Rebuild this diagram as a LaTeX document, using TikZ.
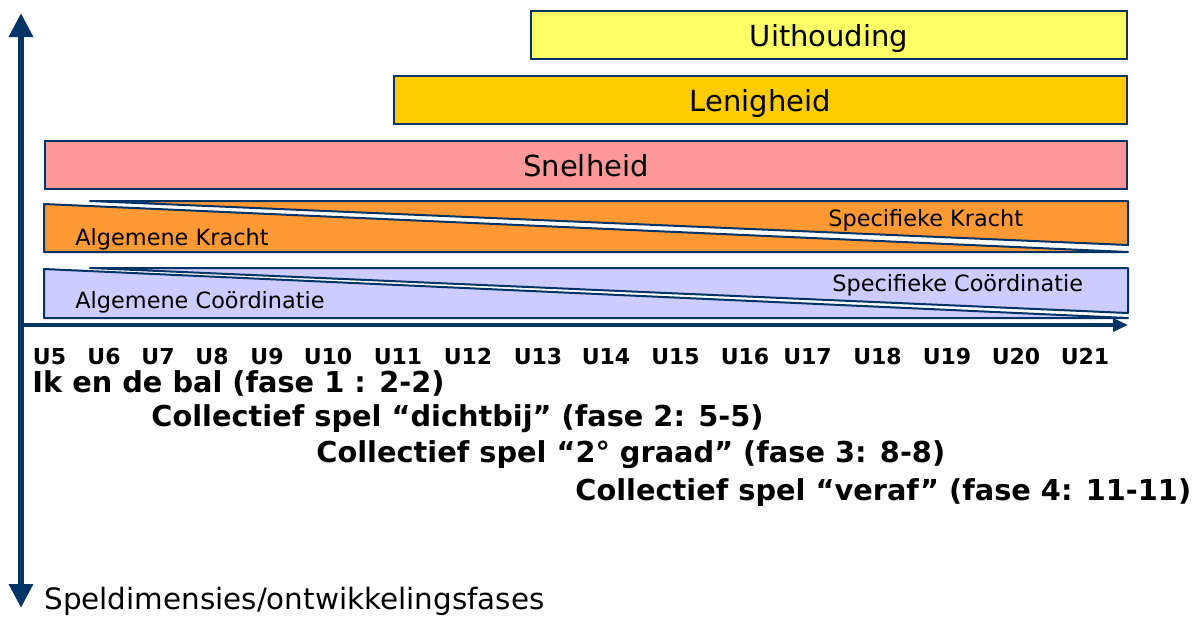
\documentclass[tikz,border=0pt]{standalone}
\usepackage{fontspec}
\setmainfont{DejaVu Sans}
\usepackage{tikz}
\usetikzlibrary{arrows.meta,positioning}
\definecolor{axisblue}{HTML}{003366}
\definecolor{uithcol}{HTML}{FFFF66}
\definecolor{lenicol}{HTML}{FFCC00}
\definecolor{snelcol}{HTML}{FF9999}
\definecolor{krachtcol}{HTML}{FF9933}
\definecolor{coordcol}{HTML}{CCCCFF}

\begin{document}
\begin{tikzpicture} [
					x=0.5pt, y=-0.5pt,
					bar/.style={draw=axisblue,line width=1pt,inner sep=0,text depth=0pt,minimum height=24pt,font=\fontsize{14.5}{17}\selectfont},
					tri/.style={draw=axisblue,line width=1pt,line join=round},
					small/.style={inner sep=0,anchor=base west,font=\fontsize{11.2}{13}\selectfont},
					ulabel/.style={inner sep=0,anchor=base,font=\bfseries\fontsize{11}{13}\selectfont},
					phase/.style={inner sep=0,anchor=base west,font=\bfseries\fontsize{14.4}{17}\selectfont},
					vaxis/.style={draw=axisblue,line width=3.25pt,{Triangle[width=11.5pt,length=12pt]}-{Triangle[width=11.5pt,length=12pt]}},
					haxis/.style={draw=axisblue,line width=1.75pt,-{Triangle[width=6.5pt,length=7.5pt]}},
				]
				\useasboundingbox (0,0) rectangle (1195,618);
				
				% bars
				\node[bar,fill=uithcol,minimum width=298pt] (uith) at (829,35) {Uithouding};
				\node[bar,fill=lenicol,minimum width=366.5pt] (leni) at (760.5,100) {Lenigheid};
				\node[bar,fill=snelcol,minimum width=541pt] (snel) at (586,165) {Snelheid};
				
				% kracht
				\draw[tri,fill=krachtcol] (44,204) -- (44,252) -- (1128,252) -- cycle;
				\draw[tri,fill=krachtcol] (90,201) -- (1128,201) -- (1128,245) -- cycle;
				\node[small] (alkr) at (75,245) {Algemene Kracht};
				\node[small] (spkr) at (828,226) {Specifieke Kracht};
				
				% coordinatie
				\draw[tri,fill=coordcol] (44,269) -- (44,318) -- (1128,318) -- cycle;
				\draw[tri,fill=coordcol] (90,268) -- (1128,268) -- (1128,313) -- cycle;
				\node[small] (alco) at (75,308) {Algemene Coördinatie};
				\node[small] (spco) at (832,291) {Specifieke Coördinatie};
				
				% axes
				\coordinate (ytop) at (21,13);
				\coordinate (ybot) at (21,608);
				\coordinate (origin) at (21,325);
				\coordinate (xend) at (1128,325);
				\draw[vaxis] (ybot) -- (ytop);
				\draw[haxis] (origin) -- (xend);
				
				% leeftijden
				\node[ulabel] (u5) at (49.5,364) {U5};
				\node[ulabel] (u6) at (104,364) {U6};
				\node[ulabel] (u7) at (158,364) {U7};
				\node[ulabel] (u8) at (212,364) {U8};
				\node[ulabel] (u9) at (267,364) {U9};
				\node[ulabel] (u10) at (328,364) {U10};
				\node[ulabel] (u11) at (398,364) {U11};
				\node[ulabel] (u12) at (468,364) {U12};
				\node[ulabel] (u13) at (538,364) {U13};
				\node[ulabel] (u14) at (606,364) {U14};
				\node[ulabel] (u15) at (675.5,364) {U15};
				\node[ulabel] (u16) at (745,364) {U16};
				\node[ulabel] (u17) at (807.5,364) {U17};
				\node[ulabel] (u18) at (877.5,364) {U18};
				\node[ulabel] (u19) at (947,364) {U19};
				\node[ulabel] (u20) at (1016,364) {U20};
				\node[ulabel] (u21) at (1085,364) {U21};
				
				% fases
				\node[phase] (fase1) at (32,392) {Ik en de bal (fase 1 : 2-2)};
				\node[phase] (fase2) at (151,426) {Collectief spel “dichtbij” (fase 2: 5-5)};
				\node[phase] (fase3) at (316,462) {Collectief spel “2° graad” (fase 3: 8-8)};
				\node[phase] (fase4) at (575,500) {Collectief spel “veraf” (fase 4: 11-11)};
				
				\node[inner sep=0,anchor=base west,font=\fontsize{14.7}{17}\selectfont] (dims) at (44,609) {Speldimensies/ontwikkelingsfases};
				
			\end{tikzpicture}
\end{document}
